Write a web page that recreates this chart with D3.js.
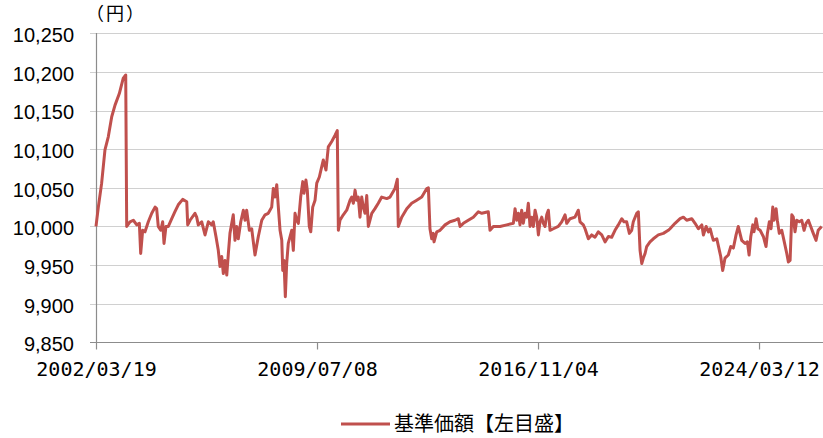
<!DOCTYPE html>
<html><head><meta charset="utf-8">
<script src="https://cdn.jsdelivr.net/npm/d3@7"></script>
<style>html,body{margin:0;padding:0;background:#fff;}svg{display:block;}</style>
</head><body>
<svg id="chart" width="823" height="438"></svg>
<script>
// trading-day index of each traced point
const dayIndex = [0,19,46,73,100,128,155,190,222,242,250,277,304,332,353,364,380,399,426,454,481,494,507,527,543,554,570,589,617,643,670,706,739,747,766,806,820,833,861,888,915,942,955,977,996,1010,1024,1037,1051,1065,1078,1091,1118,1132,1146,1159,1179,1200,1214,1227,1249,1268,1295,1322,1350,1377,1403,1431,1444,1458,1472,1485,1499,1513,1521,1531,1542,1553,1566,1594,1607,1621,1635,1648,1667,1684,1694,1710,1721,1737,1749,1765,1784,1798,1819,1838,1851,1873,1892,1920,1947,1965,1974,1987,2014,2042,2069,2083,2096,2110,2123,2136,2150,2164,2177,2191,2205,2218,2246,2272,2299,2327,2368,2395,2435,2454,2462,2490,2531,2571,2612,2653,2694,2707,2720,2734,2747,2753,2775,2802,2843,2883,2924,2951,2965,2992,3032,3073,3114,3142,3195,3209,3236,3291,3345,3399,3413,3427,3440,3453,3467,3480,3494,3508,3521,3535,3549,3562,3576,3589,3603,3616,3630,3643,3657,3671,3684,3698,3725,3765,3793,3820,3834,3861,3901,3928,3942,3969,3983,4010,4037,4064,4091,4119,4146,4173,4200,4227,4254,4282,4300,4322,4344,4363,4376,4404,4417,4431,4445,4458,4472,4485,4512,4539,4580,4621,4661,4675,4716,4757,4784,4811,4852,4879,4906,4934,4947,4969,4988,5002,5015,5028,5056,5077,5088,5104,5115,5123,5150,5170,5191,5213,5231,5245,5259,5286,5305,5319,5333,5349,5359,5376,5390,5409,5435,5457,5468,5484,5498,5512,5522,5539,5549,5565,5585,5603,5626,5639,5653,5667,5679,5693,5707,5728,5748,5767,5783,5802,5821,5842,5864,5882,5910];
// 基準価額 (円)
const navValues = [10000,10025,10056,10099,10116,10142,10157,10172,10192,10196,10000,10006,10008,10002,10004,9965,9995,9993,10006,10017,10025,10023,10000,9995,10006,9978,10000,10000,10010,10019,10028,10035,10032,10002,10008,10017,10012,10002,10006,9989,10006,10002,10006,9987,9969,9948,9961,9939,9956,9937,9965,9991,10015,9982,10000,9984,10006,10021,10008,10021,9995,9997,9963,9987,10008,10015,10017,10025,10049,10038,10054,10025,9995,9982,9943,9956,9909,9952,9978,9995,9969,10017,10008,10004,10038,10058,10043,10060,10047,10000,9993,10025,10034,10056,10064,10077,10086,10073,10103,10110,10118,10124,9995,10008,10015,10021,10034,10038,10030,10047,10034,10038,10012,10038,10025,10017,10040,10000,10017,10023,10030,10038,10036,10038,10049,10061,10000,10012,10023,10030,10034,10038,10049,10050,9997,9984,9991,9980,9993,9995,10002,10006,10008,10010,10000,10004,10008,10012,10019,10017,10019,9995,10000,10000,10002,10004,10023,10008,10017,10002,10021,10004,10017,10012,10030,10000,10012,10000,10021,10012,9989,10006,10012,10004,10000,10015,10021,9995,9997,10000,10006,10015,10004,10010,10012,10021,10006,10002,9997,9984,9989,9986,9993,9989,9980,9987,9986,9995,10002,10010,10006,10006,9991,9995,10006,10017,10019,9969,9952,9959,9965,9974,9980,9984,9989,9991,9995,9997,10004,10010,10012,10008,10010,10004,9997,10002,9989,10000,9993,9997,9989,9982,9984,9969,9961,9943,9952,9959,9963,9974,9972,9989,10000,9991,9982,9978,9980,9963,9987,10002,9993,10010,9997,9995,9987,9974,9991,10006,9997,10025,10008,10023,10008,9991,9995,9982,9965,9954,9956,10015,10012,9993,10008,10006,10008,9995,10004,10008,10000,9991,9982,9995,10000];
const yTicks = [9850,9900,9950,10000,10050,10100,10150,10200,10250];
const xTickIndex = [0,1800,3600,5400];
const xTickLabels = ["2002/03/19","2009/07/08","2016/11/04","2024/03/12"];
const seriesName = "基準価額【左目盛】";
const unitLabel = "（円）";

const svg = d3.select("#chart");
const x = d3.scaleLinear().domain([0,5921]).range([96,823]);
const y = d3.scaleLinear().domain([9850,10250]).range([342.3,33.3]);

// gridlines
svg.append("g").selectAll("line").data(yTicks).join("line")
  .attr("x1",90).attr("x2",823)
  .attr("y1",d=>Math.round(y(d))+0.5).attr("y2",d=>Math.round(y(d))+0.5)
  .attr("stroke",d=>d===9850?"#8c8c8c":"#d0d0d0").attr("stroke-width",1.2);

// y axis line
svg.append("line").attr("x1",96.5).attr("x2",96.5)
  .attr("y1",Math.round(y(10250))).attr("y2",Math.round(y(9850))+1)
  .attr("stroke","#8c8c8c").attr("stroke-width",1.2);

// y tick labels
const yAxis = d3.axisLeft(y).tickValues(yTicks).tickSize(0).tickPadding(0)
  .tickFormat(d3.format(","));
const gy = svg.append("g").attr("transform","translate(74,2)").call(yAxis);
gy.select(".domain").remove();
gy.selectAll("text").attr("font-family","'Liberation Sans', Arial, sans-serif")
  .attr("font-size",20).attr("fill","#000");

// x axis
const xAxis = d3.axisBottom(x).tickValues(xTickIndex).tickSize(7).tickPadding(12)
  .tickFormat((d,i)=>xTickLabels[i]);
const gx = svg.append("g").attr("transform",`translate(0,${Math.round(y(9850))+0.5})`).call(xAxis);
gx.select(".domain").remove();
gx.selectAll(".tick line").attr("stroke","#8c8c8c").attr("stroke-width",1.2);
gx.selectAll("text").attr("font-family","'DejaVu Sans Mono', monospace")
  .attr("font-size",20).attr("fill","#000");

// unit label
svg.append("text").attr("x",116).attr("y",20).attr("text-anchor","middle")
  .attr("font-family","'Noto Sans CJK JP', sans-serif").attr("font-size",18)
  .attr("letter-spacing",2).text(unitLabel);

// line
const pts = dayIndex.map((d,i)=>[d,navValues[i]]);
svg.append("path").datum(pts)
  .attr("fill","none").attr("stroke","#c0504d").attr("stroke-width",3)
  .attr("stroke-linejoin","round")
  .attr("d",d3.line().x(d=>x(d[0])).y(d=>y(d[1])));

// legend
svg.append("line").attr("x1",341).attr("x2",390).attr("y1",424).attr("y2",424)
  .attr("stroke","#c0504d").attr("stroke-width",3);
svg.append("text").attr("x",394).attr("y",431)
  .attr("font-family","'Noto Sans CJK JP', sans-serif").attr("font-size",20)
  .attr("fill","#000").text(seriesName);
</script>
</body></html>
